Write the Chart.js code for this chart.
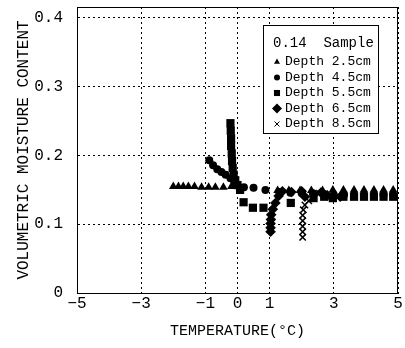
<!DOCTYPE html>
<html>
<head>
<meta charset="utf-8">
<script src="https://cdn.jsdelivr.net/npm/chart.js@4/dist/chart.umd.min.js"></script>
<style>
  html, body { margin: 0; padding: 0; background: #fff; }
  canvas { display: block; }
</style>
</head>
<body>
<canvas id="chart" width="405" height="348"></canvas>
<script>
const xTicks = [-5, -3, -1, 0, 1, 3, 5];
const xTickLabels = ["−5", "−3", "−1", "0", "1", "3", "5"];
const yTicks = [0, 0.1, 0.2, 0.3, 0.4];

const legendTitle = "0.14  Sample";
const seriesLabels = ["Depth 2.5cm", "Depth 4.5cm", "Depth 5.5cm", "Depth 6.5cm", "Depth 8.5cm"];

// [temperature, moisture content]
const depth25 = [
  [-2.0, 0.155], [-1.84, 0.155], [-1.69, 0.155], [-1.53, 0.155], [-1.34, 0.155],
  [-1.12, 0.154], [-0.9, 0.154], [-0.69, 0.154], [-0.44, 0.154], [-0.19, 0.155],
  [1.25, 0.149], [1.6, 0.149], [1.95, 0.149], [2.3, 0.149], [2.65, 0.149],
  [2.97, 0.15], [3.3, 0.15], [3.63, 0.15], [3.94, 0.15], [4.25, 0.15],
  [4.55, 0.15], [4.85, 0.15]
];
const depth45 = [
  [-0.88, 0.193], [-0.76, 0.186], [-0.63, 0.18], [-0.5, 0.176], [-0.37, 0.172],
  [-0.22, 0.167], [-0.1, 0.162], [0.2, 0.154], [0.5, 0.153], [0.87, 0.15],
  [1.3, 0.147], [1.65, 0.146], [2.0, 0.145], [2.35, 0.145], [2.7, 0.144],
  [3.0, 0.143], [3.32, 0.143], [3.63, 0.143], [3.94, 0.143], [4.25, 0.143],
  [4.55, 0.143], [4.85, 0.143]
];
const depth55 = [
  [-0.22, 0.247], [-0.21, 0.236], [-0.2, 0.225], [-0.2, 0.214], [-0.18, 0.203],
  [-0.17, 0.192], [-0.15, 0.182], [-0.12, 0.172], [-0.07, 0.164], [0.0, 0.157],
  [0.08, 0.15], [0.19, 0.132], [0.48, 0.124], [0.81, 0.124], [1.66, 0.131],
  [2.37, 0.138], [2.7, 0.14], [2.97, 0.138], [3.3, 0.14], [3.63, 0.14],
  [3.94, 0.14], [4.25, 0.14], [4.55, 0.14], [4.85, 0.14]
];
const depth65 = [
  [1.03, 0.089], [1.03, 0.095], [1.03, 0.101], [1.04, 0.107], [1.05, 0.114],
  [1.1, 0.122], [1.18, 0.131], [1.28, 0.141], [1.4, 0.148], [1.68, 0.147],
  [2.0, 0.148], [2.1, 0.14], [2.6, 0.146], [2.8, 0.142], [3.2, 0.14]
];
const depth85 = [
  [2.03, 0.081], [2.03, 0.089], [2.03, 0.097], [2.03, 0.105], [2.03, 0.113],
  [2.05, 0.121], [2.1, 0.128], [2.22, 0.134], [2.37, 0.14], [2.55, 0.145]
];

const FONT = "'Liberation Mono', monospace";

const markers = [
  { style: "triangle", radius: 5, legendRadius: 3.5 },
  { style: "circle", radius: 4, legendRadius: 3 },
  { style: "rect", radius: 5.8, legendRadius: 4.3 },
  { style: "rectRot", radius: 5.3, legendRadius: 5 },
  { style: "crossRot", radius: 4.5, legendRadius: 3.5 }
];

function toPoints(rows) {
  return rows.map(([x, y]) => ({ x, y }));
}

const allSeries = [depth25, depth45, depth55, depth65, depth85];

const datasets = allSeries.map((rows, i) => ({
  label: seriesLabels[i],
  data: toPoints(rows),
  pointStyle: markers[i].style,
  pointRadius: markers[i].radius,
  pointBackgroundColor: "#000",
  pointBorderColor: "#000",
  pointBorderWidth: markers[i].style === "crossRot" ? 1.5 : 0,
  showLine: false
}));

// frame round the plot area and the boxed legend inside it
const framePlugin = {
  id: "frame",
  afterDraw(chart) {
    const { ctx, chartArea: a } = chart;
    ctx.save();
    ctx.strokeStyle = "#000";
    ctx.lineWidth = 1;
    ctx.strokeRect(a.left + 0.5, a.top + 0.5, a.right - a.left - 1, a.bottom - a.top);

    const bx = a.left + 186, by = a.top + 18, bw = 115, bh = 108;
    ctx.fillStyle = "#fff";
    ctx.fillRect(bx, by, bw, bh);
    ctx.strokeRect(bx + 0.5, by + 0.5, bw, bh);

    ctx.fillStyle = "#000";
    ctx.textBaseline = "middle";
    ctx.font = "14px " + FONT;
    ctx.fillText(legendTitle, bx + 10, by + 18);
    ctx.font = "13px " + FONT;
    seriesLabels.forEach((label, i) => {
      const y = by + 37 + i * 15.5;
      Chart.helpers.drawPoint(ctx, {
        pointStyle: markers[i].style,
        radius: markers[i].legendRadius,
        rotation: 0,
        borderWidth: markers[i].style === "crossRot" ? 1 : 0
      }, bx + 14, y);
      ctx.fillText(label, bx + 22, y);
    });
    ctx.restore();
  }
};

new Chart(document.getElementById("chart"), {
  type: "scatter",
  data: { datasets },
  options: {
    responsive: false,
    animation: false,
    devicePixelRatio: 1,
    layout: { padding: { top: 7, right: 7, left: 0, bottom: 0 } },
    plugins: {
      legend: { display: false },
      tooltip: { enabled: false }
    },
    scales: {
      x: {
        type: "linear",
        min: -5,
        max: 5,
        afterBuildTicks: (s) => { s.ticks = xTicks.map(v => ({ value: v })); },
        afterFit: (s) => { s.height = 55; s.paddingLeft = 0; s.paddingRight = 0; },
        ticks: {
          color: "#000",
          font: { family: FONT, size: 16 },
          padding: 1,
          maxRotation: 0,
          autoSkip: false,
          callback: (v) => xTickLabels[xTicks.indexOf(v)]
        },
        grid: { color: "#000", lineWidth: 1, drawTicks: false },
        border: { display: true, color: "#000", width: 1, dash: [2, 3] },
        title: {
          display: true,
          text: "TEMPERATURE(°C)",
          color: "#000",
          font: { family: FONT, size: 15 },
          padding: { top: 3, bottom: 8 }
        }
      },
      y: {
        type: "linear",
        min: 0,
        max: 0.416,
        afterBuildTicks: (s) => { s.ticks = yTicks.map(v => ({ value: v })); },
        afterFit: (s) => { s.width = 77; s.paddingTop = 0; s.paddingBottom = 0; },
        ticks: {
          color: "#000",
          font: { family: FONT, size: 16 },
          padding: 14,
          callback: (v) => (v === 0 ? "0" : v.toFixed(1))
        },
        grid: { color: "#000", lineWidth: 1, drawTicks: false },
        border: { display: true, color: "#000", width: 1, dash: [2, 3] },
        title: {
          display: true,
          text: "VOLUMETRIC MOISTURE CONTENT",
          color: "#000",
          font: { family: FONT, size: 16 },
          padding: { top: 14, bottom: 0 }
        }
      }
    }
  },
  plugins: [framePlugin]
});
</script>
</body>
</html>
